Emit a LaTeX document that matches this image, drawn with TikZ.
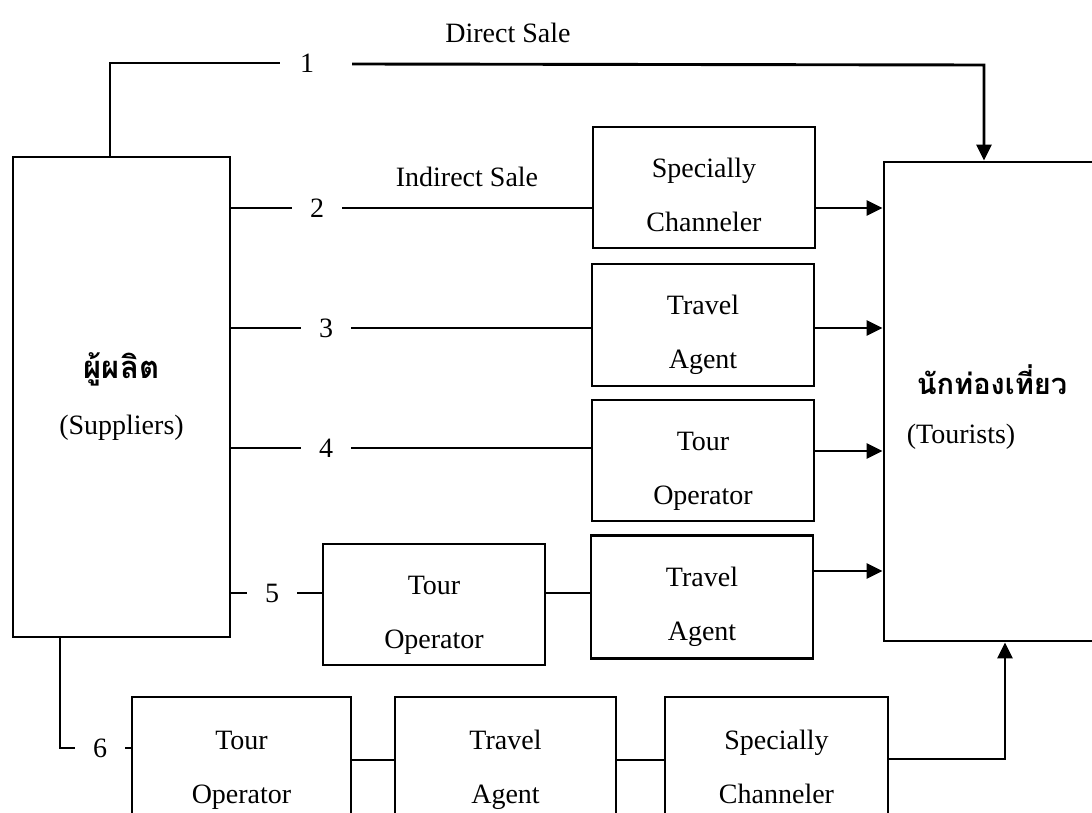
\documentclass[tikz,border=0pt]{standalone}
\usepackage{fontspec}
\setmainfont{Liberation Serif}
\newfontfamily\thaifont[Script=Thai]{Loma}
\usetikzlibrary{arrows.meta}
\newcommand\twolines[2]{\rule{0pt}{40pt}#1\\#2\rule[-7pt]{0pt}{7pt}}
\begin{document}
\begin{tikzpicture}[x=1pt,y=-1pt,line width=2.9pt,
  box/.style={draw,inner sep=0pt,align=center,font=\fontsize{28}{54}\selectfont},
  num/.style={inner sep=0pt,minimum width=48pt,font=\fontsize{28}{34}\selectfont},
  lbl/.style={inner sep=0pt,font=\fontsize{28}{34}\selectfont},
  thailbl/.style={inner sep=0pt,font=\fontsize{29}{34}\thaifont\bfseries},
  arr/.style={-{Triangle[length=16pt,width=15pt]}}]
\clip (0,0) rectangle (1092,813);
\fill[white] (0,0) rectangle (1092,813);

% main boxes
\node[box,minimum width=217pt,minimum height=480pt,font=\fontsize{28}{56}\selectfont] (sup) at (121.5,397)
  {{\fontsize{31}{34}\thaifont\bfseries ผู้ผลิต}\\(Suppliers)};
\node[box,minimum width=316pt,minimum height=479pt] (tour) at (1042,401.5) {};
\node[thailbl] (tthai) at (992,380) {นักท่องเที่ยว};
\node[lbl] (tlat) at (961,437) {(Tourists)};

% labels
\node[lbl] (ds) at (508,33) {Direct Sale};
\node[lbl] (is) at (467,177) {Indirect Sale};

% channel boxes
\node[box,minimum width=222pt,minimum height=121pt] (sc2) at (704,187.5) {\twolines{Specially}{Channeler}};
\node[box,minimum width=222pt,minimum height=122pt] (ta3) at (703,325) {\twolines{Travel}{Agent}};
\node[box,minimum width=222pt,minimum height=121pt] (to4) at (703,460.5) {\twolines{Tour}{Operator}};
\node[box,minimum width=222pt,minimum height=121pt] (to5) at (434,604.5) {\twolines{Tour}{Operator}};
\node[box,minimum width=222pt,minimum height=123pt] (ta5) at (702,597) {\twolines{Travel}{Agent}};
\node[box,minimum width=219pt,minimum height=125pt] (to6) at (241.5,759.5) {\twolines{Tour}{Operator}};
\node[box,minimum width=221pt,minimum height=125pt] (ta6) at (505.5,759.5) {\twolines{Travel}{Agent}};
\node[box,minimum width=223pt,minimum height=125pt] (sc6) at (776.5,759.5) {\twolines{Specially}{Channeler}};

% numbers
\node[num] (n1) at (307,63) {1};
\node[num] (n2) at (317,208) {2};
\node[num] (n3) at (326,328) {3};
\node[num] (n4) at (326,448) {4};
\node[num] (n5) at (272,593) {5};
\node[num] (n6) at (100,748) {6};

% helper coordinates
\coordinate (k1) at (110,63);
\coordinate (e1) at (280,63);
\coordinate (s1) at (352,64);
\coordinate (a1) at (984,65);
\coordinate (r4) at (0,451);
\coordinate (r5) at (0,571);
\coordinate (k6) at (60,748);
\coordinate (r6) at (0,760);
\coordinate (k6b) at (1005,759);

% channel 1
\draw (sup.north -| k1) -- (k1) -- (e1);
\draw[arr] (s1) -- (a1) -- (a1 |- tour.north);
% channel 2
\draw (sup.east |- n2) -- (n2.west);
\draw (n2.east) -- (sc2.west |- n2);
\draw[arr] (sc2.east |- n2) -- (tour.west |- n2);
% channel 3
\draw (sup.east |- n3) -- (n3.west);
\draw (n3.east) -- (ta3.west |- n3);
\draw[arr] (ta3.east |- n3) -- (tour.west |- n3);
% channel 4
\draw (sup.east |- n4) -- (n4.west);
\draw (n4.east) -- (to4.west |- n4);
\draw[arr] (to4.east |- r4) -- (tour.west |- r4);
% channel 5
\draw (sup.east |- n5) -- (n5.west);
\draw (n5.east) -- (to5.west |- n5);
\draw (to5.east |- n5) -- (ta5.west |- n5);
\draw[arr] (ta5.east |- r5) -- (tour.west |- r5);
% channel 6
\draw (sup.south -| k6) -- (k6) -- (n6.west);
\draw (n6.east) -- (to6.west |- n6);
\draw (to6.east |- r6) -- (ta6.west |- r6);
\draw (ta6.east |- r6) -- (sc6.west |- r6);
\draw[arr] (sc6.east |- k6b) -- (k6b) -- (k6b |- tour.south);
\end{tikzpicture}
\end{document}
